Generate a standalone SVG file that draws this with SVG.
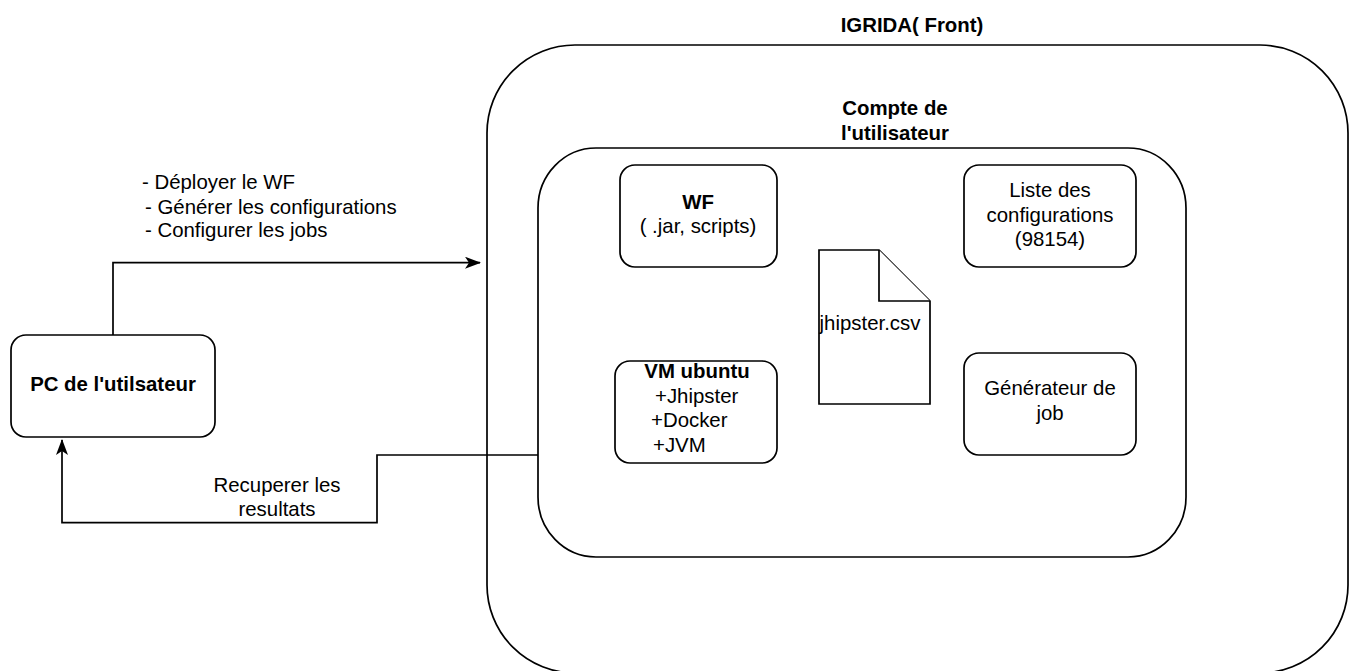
<svg xmlns="http://www.w3.org/2000/svg" width="1351" height="671" viewBox="0 0 1351 671">
<style>
.box{fill:#fff;stroke:#000;stroke-width:1.7}
.cont{fill:none;stroke:#000;stroke-width:1.7}
.edge{fill:none;stroke:#000;stroke-width:1.7}
text{font-family:"Liberation Sans",Arial,sans-serif;font-size:20.4px;fill:#000}
.c{text-anchor:middle}
.b{font-weight:bold}
</style>
<defs>
<marker id="arr" viewBox="0 0 16 12" refX="15" refY="6" markerWidth="16" markerHeight="12" orient="auto" markerUnits="userSpaceOnUse">
<path d="M0,0 L16,6 L0,12 L4,6 Z" fill="#000"/>
</marker>
</defs>
<rect width="1351" height="671" fill="#fff"/>
<g id="igrida">
<rect class="cont" x="487" y="45" width="861" height="628" rx="88" ry="88"/>
<text class="c b" x="912" y="32">IGRIDA( Front)</text>
</g>
<g id="compte">
<rect class="cont" x="538" y="148" width="648" height="409" rx="58" ry="60"/>
<text class="c b" x="895" y="115">Compte de</text>
<text class="c b" x="895" y="139.5">l'utilisateur</text>
</g>
<g id="pc">
<rect class="box" x="11" y="335" width="204" height="102" rx="15" ry="15"/>
<text class="c b" x="113" y="391">PC de l'utilsateur</text>
</g>
<g id="wf">
<rect class="box" x="620" y="165" width="157" height="102" rx="15" ry="15"/>
<text class="c b" x="698" y="209">WF</text>
<text class="c" x="698" y="233">( .jar, scripts)</text>
</g>
<g id="liste">
<rect class="box" x="964" y="165" width="172" height="102" rx="15" ry="15"/>
<text class="c" x="1050" y="197">Liste des</text>
<text class="c" x="1050" y="221.5">configurations</text>
<text class="c" x="1050" y="246">(98154)</text>
</g>
<g id="vm">
<rect class="box" x="615" y="361" width="162" height="102" rx="15" ry="15"/>
<text class="c b" x="697" y="378">VM ubuntu</text>
<text x="655" y="402.5">+Jhipster</text>
<text x="651" y="427">+Docker</text>
<text x="653" y="451.5">+JVM</text>
</g>
<g id="generateur">
<rect class="box" x="964" y="353" width="172" height="102" rx="15" ry="15"/>
<text class="c" x="1050" y="395">Générateur de</text>
<text class="c" x="1050" y="419.5">job</text>
</g>
<g id="csv">
<path class="box" d="M819,250 H879 L930,301 V404 H819 Z"/>
<path class="box" fill="none" d="M879,250 V301 H930"/>
<text class="c" x="870" y="330">jhipster.csv</text>
</g>
<g id="connectors">
<path class="edge" d="M113,335 V262.7 H480" marker-end="url(#arr)"/>
<text x="142" y="189">- Déployer le WF</text>
<text x="145" y="213.5">- Générer les configurations</text>
<text x="145" y="237">- Configurer les jobs</text>
<path class="edge" d="M538,455 H377 V522.7 H62 V440" marker-end="url(#arr)"/>
<text class="c" x="277" y="492">Recuperer les</text>
<text class="c" x="277" y="516">resultats</text>
</g>
</svg>
